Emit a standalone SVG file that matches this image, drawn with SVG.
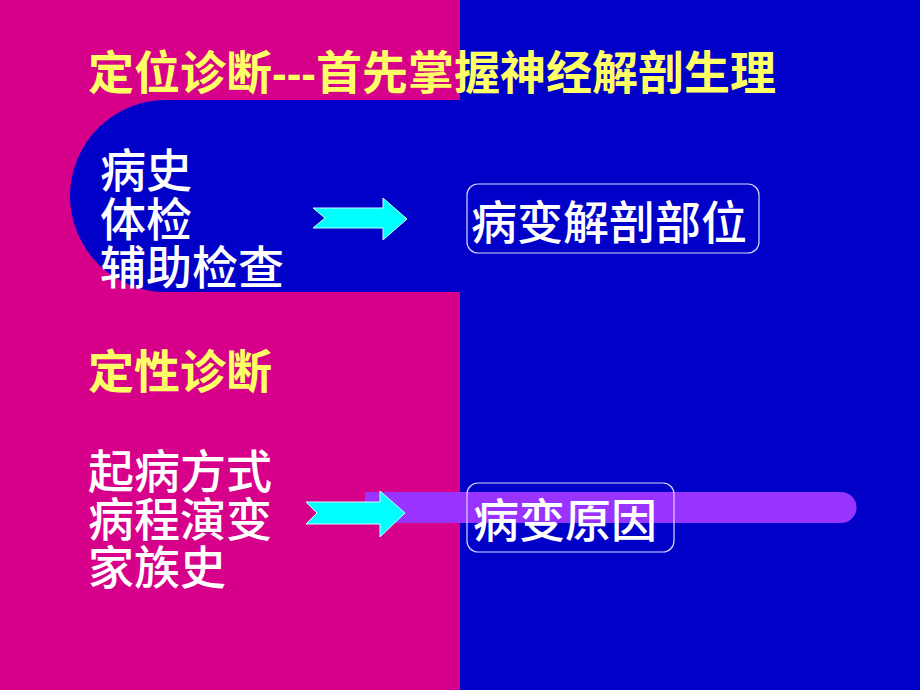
<svg xmlns="http://www.w3.org/2000/svg" width="920" height="690" viewBox="0 0 920 690">
<style>
.t{font-family:"Liberation Sans","Noto Sans CJK SC",sans-serif;font-size:46px}
.y{fill:#FFFF66;font-weight:bold}
.w{fill:#FFFFFF;font-weight:500}
.arrow{fill:#00FFFF;stroke:#CCFFFF;stroke-width:1}
.box{fill:none;stroke:#D8D8FF;stroke-width:1.2}
</style>
<rect x="0" y="0" width="460" height="690" fill="#D6008A"/>
<rect x="460" y="0" width="460" height="690" fill="#0000C8"/>
<path d="M460,100 H166 A96,96 0 0 0 166,292 H460 Z" fill="#0000C8"/>
<g id="title"><text class="t y" x="88" y="89">定位诊断<tspan font-size="44">---</tspan>首先掌握神经解剖生理</text></g>
<g id="locate-inputs">
<text class="t w" x="100" y="187">病史</text>
<text class="t w" x="100" y="236">体检</text>
<text class="t w" x="100" y="284">辅助检查</text>
</g>
<g id="qual-title"><text class="t y" x="88" y="388">定性诊断</text></g>
<g id="qual-inputs">
<text class="t w" x="88" y="488">起病方式</text>
<text class="t w" x="88" y="536">病程演变</text>
<text class="t w" x="88" y="584">家族史</text>
</g>
<g id="bar"><path d="M365,492 H841 A15.5,15.5 0 0 1 841,523 H365 Z" fill="#9933FF"/></g>
<g id="connectors">
<polygon class="arrow" points="313,208 383,208 383,198 407,219 383,240 383,228 313,228 325,218"/>
<polygon class="arrow" points="306,502 380,502 380,491 405,513 380,537 380,524 306,524 317,513"/>
</g>
<g id="site">
<rect class="box" x="467" y="184" width="292" height="69" rx="11"/>
<text class="t w" x="471" y="239">病变解剖部位</text>
</g>
<g id="cause">
<rect class="box" x="467" y="483" width="207" height="69" rx="11"/>
<text class="t w" x="473" y="537">病变原因</text>
</g>
</svg>
